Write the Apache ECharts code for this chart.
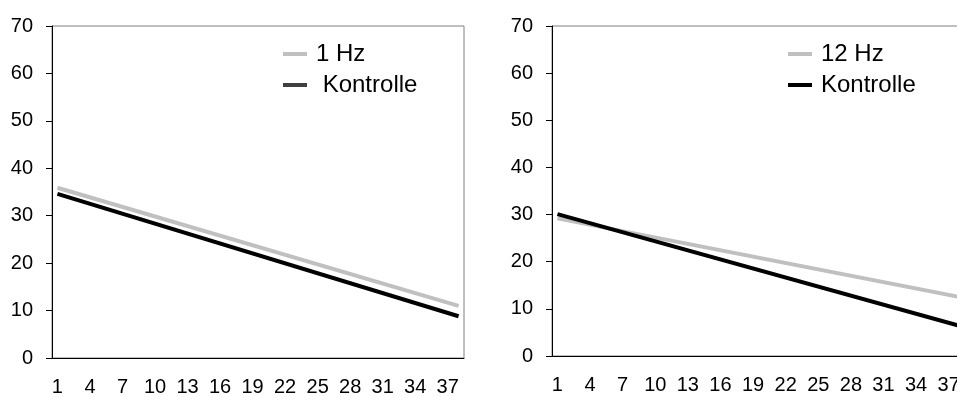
<!DOCTYPE html>
<html>
<head>
<meta charset="utf-8">
<script src="https://cdn.jsdelivr.net/npm/echarts@6/dist/echarts.min.js"></script>
<style>
  html, body { margin: 0; padding: 0; background: #fff; }
  #chart { width: 957px; height: 397px; }
</style>
</head>
<body>
<div id="chart"></div>
<script>
// x categories (measurement index 1..38)
const categories = ["1", "2", "3", "4", "5", "6", "7", "8", "9", "10", "11", "12", "13",
  "14", "15", "16", "17", "18", "19", "20", "21", "22", "23", "24", "25", "26",
  "27", "28", "29", "30", "31", "32", "33", "34", "35", "36", "37", "38"];

// linear trend lines: value at first and last category
const hz1Trend = [35.9, 11.0];
const kontrolleLeft = [34.6, 8.8];
const hz12Trend = [29.2, 12.5];
const kontrolleRight = [30.1, 6.4];

const FONT = "Liberation Sans, Arial, sans-serif";
const last = categories.length - 1;
const ends = (v) => [[0, v[0]], [last, v[1]]];

function xAxis(gridIndex) {
  return {
    type: "category",
    gridIndex,
    data: categories,
    boundaryGap: true,
    axisLine: { lineStyle: { color: "#000", width: 1 } },
    axisTick: { interval: 0, length: 6, lineStyle: { color: "#000" } },
    axisLabel: { interval: 2, margin: 19, color: "#000", fontSize: 20, fontFamily: FONT },
    splitLine: { show: false },
  };
}

function yAxis(gridIndex) {
  return {
    type: "value",
    gridIndex,
    min: 0,
    max: 70,
    interval: 10,
    axisLine: { show: true, lineStyle: { color: "#000", width: 1 } },
    axisTick: { show: true, length: 6, lineStyle: { color: "#000" } },
    axisLabel: { margin: 19, color: "#000", fontSize: 20, fontFamily: FONT },
    splitLine: { show: false },
  };
}

function trendSeries(name, idx, v, color) {
  return {
    name,
    type: "line",
    xAxisIndex: idx,
    yAxisIndex: idx,
    data: ends(v),
    showSymbol: false,
    symbol: "none",
    clip: true,
    lineStyle: { color, width: 4 },
    itemStyle: { color },
    z: color === "#000" ? 3 : 2,
  };
}

const legendBase = {
  orient: "vertical",
  icon: "rect",
  itemWidth: 24,
  itemHeight: 4,
  itemGap: 7,
  textStyle: { fontSize: 24, color: "#000", fontFamily: FONT, padding: [0, 0, 0, 4] },
};

const chart = echarts.init(document.getElementById("chart"));
chart.setOption({
  animation: false,
  backgroundColor: "#fff",
  grid: [
    { left: 52, top: 26, width: 412, height: 332, outerBoundsMode: "none",
      show: true, borderColor: "#808080", borderWidth: 1 },
    { left: 552, top: 26, width: 413, height: 330, outerBoundsMode: "none",
      show: true, borderColor: "#808080", borderWidth: 1 },
  ],
  legend: [
    Object.assign({}, legendBase, {
      left: 278, top: 37,
      data: [
        { name: "1 Hz", itemStyle: { color: "#c0c0c0" } },
        { name: " Kontrolle", itemStyle: { color: "#404040" } },
      ],
    }),
    Object.assign({}, legendBase, {
      left: 783, top: 37,
      data: [
        { name: "12 Hz", itemStyle: { color: "#c0c0c0" } },
        { name: "Kontrolle", itemStyle: { color: "#000" } },
      ],
    }),
  ],
  xAxis: [xAxis(0), xAxis(1)],
  yAxis: [yAxis(0), yAxis(1)],
  series: [
    trendSeries("1 Hz", 0, hz1Trend, "#c0c0c0"),
    trendSeries(" Kontrolle", 0, kontrolleLeft, "#000"),
    trendSeries("12 Hz", 1, hz12Trend, "#c0c0c0"),
    trendSeries("Kontrolle", 1, kontrolleRight, "#000"),
  ],
});
</script>
</body>
</html>
